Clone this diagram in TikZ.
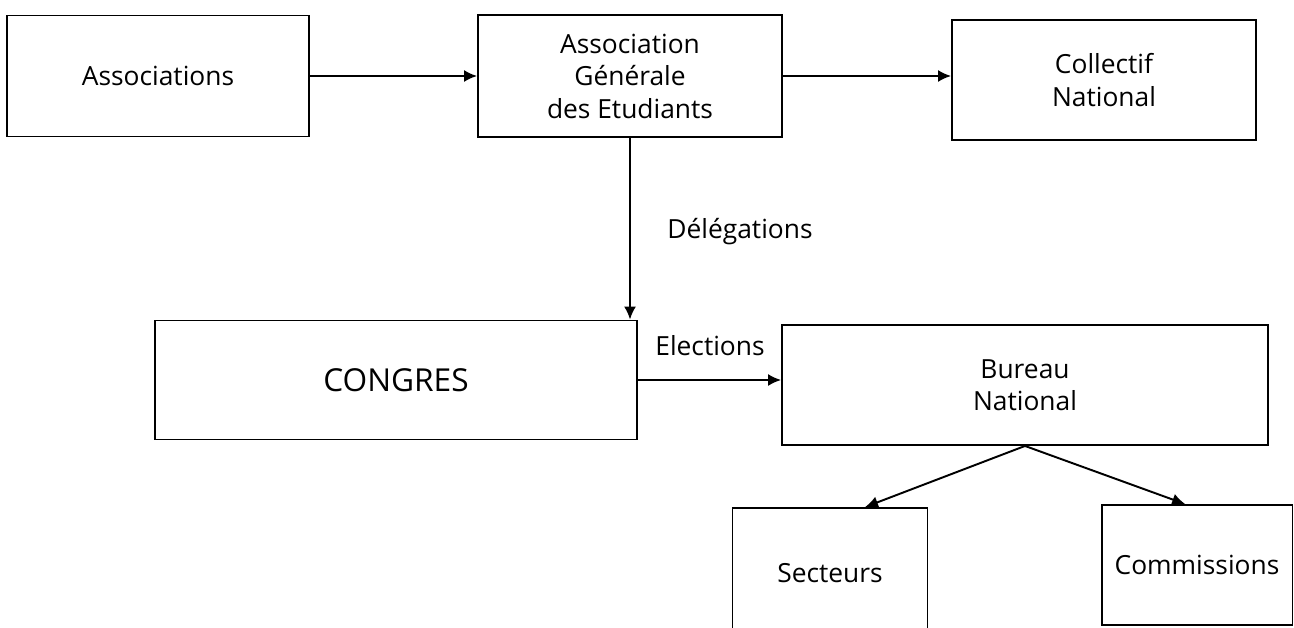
\documentclass[tikz,border=0pt]{standalone}
\usepackage{fontspec}
\setmainfont{Open Sans}
\usetikzlibrary{arrows.meta}

\begin{document}
\begin{tikzpicture}[
  x=0.02cm, y=-0.02cm,
  bloc/.style={rectangle,draw,line width=1.1pt,align=center,
    font=\fontsize{15}{18.5}\selectfont},
  fleche/.style={draw,line width=1.1pt,-{Latex[length=0.26cm,width=0.24cm]}}, % <-- flèches
  etiquette/.style={font=\fontsize{15}{18.5}\selectfont}
]
\useasboundingbox (0,0) rectangle (1294,628);

\node[bloc,minimum width=6.04cm,minimum height=2.42cm] (assoc) at (158,76) {Associations};
\node[bloc,minimum width=6.08cm,minimum height=2.44cm] (age) at (630,76)
  {Association\\Générale\\des Etudiants};
\node[bloc,minimum width=6.08cm,minimum height=2.40cm] (collectif) at (1104,80)
  {Collectif\\National};
\node[bloc,minimum width=9.66cm,minimum height=2.38cm,
  font=\fontsize{18}{22}\selectfont] (congres) at (396,380) {CONGRES};
\node[bloc,minimum width=9.72cm,minimum height=2.40cm] (bureau) at (1025,385)
  {Bureau\\National};
\node[bloc,minimum width=3.90cm,minimum height=2.60cm] (secteurs) at (830,573) {Secteurs};
\node[bloc,minimum width=3.82cm,minimum height=2.40cm] (commissions) at (1197,565) {Commissions};

\node[etiquette] (delegations) at (740,232) {Délégations};
\node[etiquette] (elections) at (710,346) {Elections};

\draw[fleche] (assoc.east) -- (assoc.east -| age.west);
\draw[fleche] (age.east) -- (age.east -| collectif.west);
\draw[fleche] (age.south) -- (age.south |- congres.north);
\draw[fleche] (congres.east) -- (congres.east -| bureau.west);
\draw[fleche] (bureau.south) -- (secteurs.62);
\draw[fleche] (bureau.south) -- (commissions.101);

\end{tikzpicture}
\end{document}
